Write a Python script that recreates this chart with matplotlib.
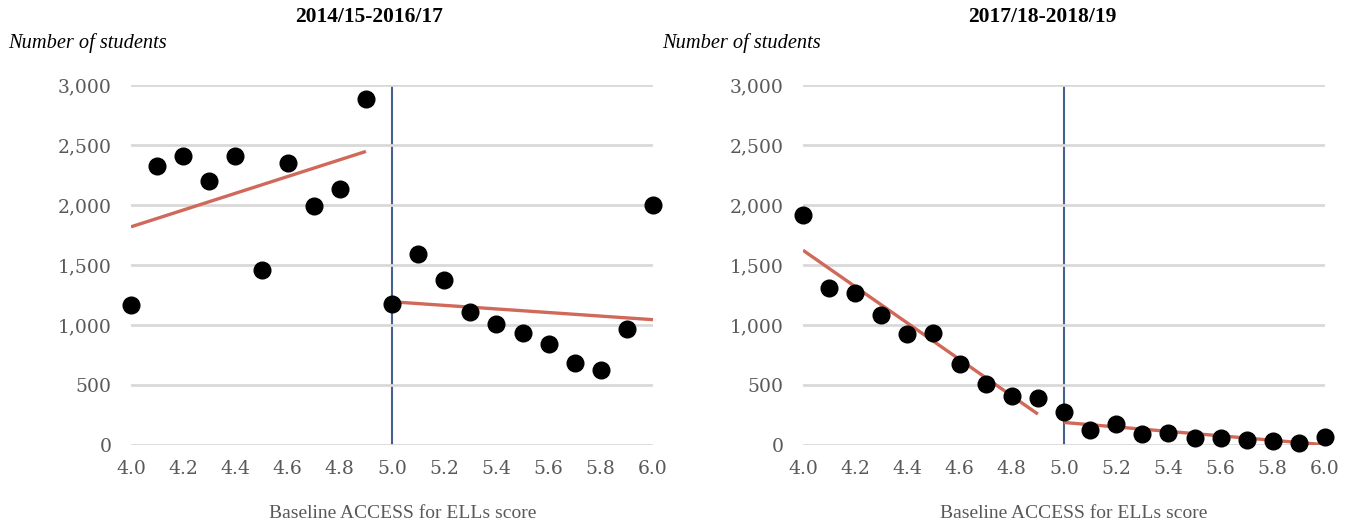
import numpy as np
import matplotlib
matplotlib.use("Agg")
import matplotlib.pyplot as plt

# Baseline score bins
scores = [4.0, 4.1, 4.2, 4.3, 4.4, 4.5, 4.6, 4.7, 4.8, 4.9,
          5.0, 5.1, 5.2, 5.3, 5.4, 5.5, 5.6, 5.7, 5.8, 5.9, 6.0]

# Number of students per bin, by cohort period
students_2014_2016 = [1167, 2325, 2408, 2200, 2408, 1458, 2350, 1992, 2133, 2883,
                      1175, 1592, 1375, 1108, 1008, 933, 842, 683, 625, 967, 2000]
students_2017_2018 = [1917, 1306, 1264, 1083, 922, 931, 675, 508, 408, 389,
                      278, 125, 172, 92, 97, 61, 61, 42, 33, 14, 69]

panel_titles = ["2014/15-2016/17", "2017/18-2018/19"]
cutoff = 5.0
x_ticks = [4.0, 4.2, 4.4, 4.6, 4.8, 5.0, 5.2, 5.4, 5.6, 5.8, 6.0]
y_ticks = [0, 500, 1000, 1500, 2000, 2500, 3000]

FONT = "Liberation Serif"
TICK_FONT = "DejaVu Serif"
GRID = "#d9d9d9"
TICK = "#595959"
FIT = "#d0695a"
CUT = "#44618f"

W, H = 1351, 523
fig = plt.figure(figsize=(W / 100, H / 100), dpi=100)

panels = [
    (students_2014_2016, 131, 369, 8, 403),
    (students_2017_2018, 803, 1042, 662, 1074),
]

for (counts, x0, title_x, ylab_x, xlab_x), title in zip(panels, panel_titles):
    ax = fig.add_axes([x0 / W, 1 - 445 / H, 522 / W, 360 / H])
    x = np.array(scores)
    y = np.array(counts, dtype=float)

    ax.set_xlim(4.0, 6.0)
    ax.set_ylim(0, 3000)
    ax.set_yticks(y_ticks)
    ax.set_xticks(x_ticks)
    ax.set_yticklabels([f"{v:,}" for v in y_ticks])
    ax.set_xticklabels([f"{v:.1f}" for v in x_ticks])
    ax.grid(axis="y", color=GRID, linewidth=2, zorder=0)
    for s in ax.spines.values():
        s.set_visible(False)
    ax.tick_params(length=0, labelsize=13.5, labelcolor=TICK)
    ax.tick_params(axis="x", pad=11)
    ax.tick_params(axis="y", pad=14)
    for lab in ax.get_xticklabels() + ax.get_yticklabels():
        lab.set_fontfamily(TICK_FONT)

    ax.axvline(cutoff, color=CUT, linewidth=1.5, zorder=1)

    # separate linear fits below and above the cutoff
    for mask in (x < cutoff - 1e-9, x >= cutoff - 1e-9):
        coef = np.polyfit(x[mask], y[mask], 1)
        xs = np.array([x[mask].min(), x[mask].max()])
        ax.plot(xs, np.polyval(coef, xs), color=FIT, linewidth=2.4,
                zorder=2, solid_capstyle="butt")

    ax.plot(x, y, "o", color="black", markersize=12, zorder=3, clip_on=False)

    fig.text(xlab_x / W, 1 - 513 / H, "Baseline ACCESS for ELLs score",
             ha="center", va="center", fontfamily=FONT, fontsize=14,
             color=TICK)
    fig.text(title_x / W, 1 - 17 / H, title, ha="center", va="center",
             fontfamily=FONT, fontweight="bold", fontsize=15.5, color="black")
    fig.text(ylab_x / W, 1 - 43 / H, "Number of students", ha="left",
             va="center", fontfamily=FONT, fontstyle="italic", fontsize=14.7,
             color="black")

fig.savefig("out.png", dpi=100, facecolor="white")
